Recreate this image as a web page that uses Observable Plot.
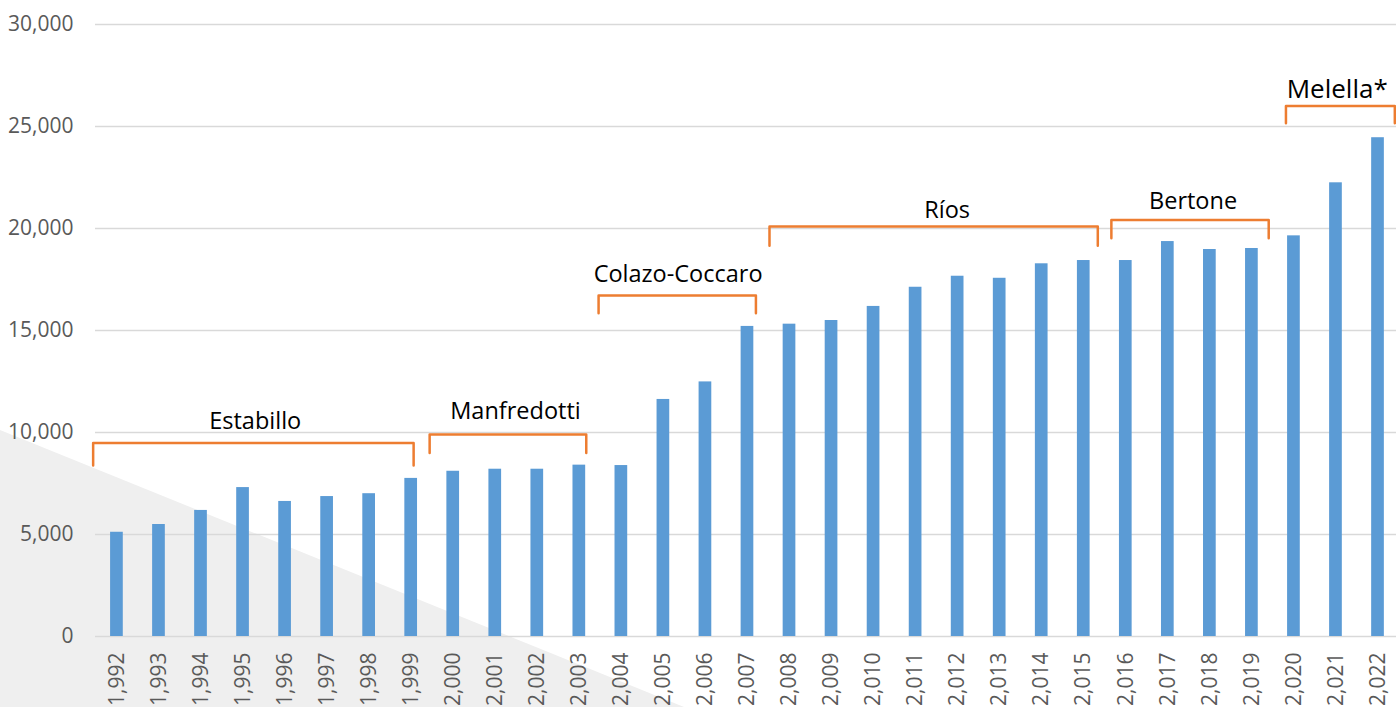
<!DOCTYPE html>
<html><head><meta charset="utf-8">
<script src="https://cdn.jsdelivr.net/npm/d3@7"></script>
<script src="https://cdn.jsdelivr.net/npm/@observablehq/plot@0.6"></script>
<style>
html,body{margin:0;padding:0;background:#fff;}
#wrap{position:relative;width:1396px;height:707px;overflow:hidden;}
#shade{position:absolute;left:0;top:0;width:1396px;height:707px;background:#efefef;clip-path:polygon(0 430px,684px 707px,0 707px);}
#chart{position:absolute;left:0;top:0;}
</style></head><body>
<div id="wrap"><div id="shade"></div><div id="chart"></div></div>
<script>
// Data
const years = [1992,1993,1994,1995,1996,1997,1998,1999,2000,2001,2002,2003,2004,2005,2006,2007,
               2008,2009,2010,2011,2012,2013,2014,2015,2016,2017,2018,2019,2020,2021,2022];
const values = [5110,5490,6180,7300,6620,6860,7000,7750,8100,8200,8200,8400,8380,11620,12480,15200,
                15310,15490,16180,17120,17660,17560,18270,18430,18430,19360,18970,19020,19640,22240,24450];
const yTicks = [0,5000,10000,15000,20000,25000,30000];

// Governor terms (annotation brackets)
const termNames  = ["Estabillo","Manfredotti","Colazo-Coccaro","Ríos","Bertone","Melella*"];
const termStart  = [1991.434,1999.439,2003.458,2007.524,2015.657,2019.81];
const termEnd    = [1999.058,2003.165,2007.201,2015.334,2019.40,2022.40];
const termTop    = [9480,9900,16720,20100,20420,26000];
const termLeg    = [8380,9000,15850,19150,19520,25160];
const termLabelX = [1995.29,2001.48,2005.35,2011.75,2017.6,2021.03];
const termLabelY = [10540,11030,17750,20880,21320,26810];

const bars = years.map((y,i)=>({year:y, value:values[i]}));
const brackets = termNames.flatMap((n,i)=>[
  {name:n, x:termStart[i], y:termLeg[i]},
  {name:n, x:termStart[i], y:termTop[i]},
  {name:n, x:termEnd[i],   y:termTop[i]},
  {name:n, x:termEnd[i],   y:termLeg[i]}
]);
const labels = termNames.map((n,i)=>({name:n, x:termLabelX[i], y:termLabelY[i], last:i===termNames.length-1}));

const halfW = 0.151;
const chart = Plot.plot({
  width:1396, height:707,
  marginLeft:95, marginRight:0, marginTop:24, marginBottom:71,
  style:{background:"transparent", fontFamily:"'Open Sans', sans-serif", fontSize:"21px", color:"#595959", overflow:"visible"},
  x:{domain:[1991.49,2022.44], label:null},
  y:{domain:[0,30000], label:null},
  marks:[
    Plot.gridY(yTicks, {stroke:"#d9d9d9", strokeOpacity:1, strokeWidth:1.5}),
    Plot.rectY(bars, {x1:d=>d.year-halfW, x2:d=>d.year+halfW, y:"value", fill:"#5b9bd5"}),
    Plot.line(brackets, {x:"x", y:"y", z:"name", stroke:"#ed7d31", strokeWidth:2.5, strokeLinejoin:"round", strokeLinecap:"round"}),
    Plot.text(labels.filter(d=>!d.last), {x:"x", y:"y", text:"name", fill:"#000", fontSize:23.5, textAnchor:"middle"}),
    Plot.text(labels.filter(d=>d.last), {x:"x", y:"y", text:"name", fill:"#000", fontSize:26, textAnchor:"middle"}),
    Plot.axisY(yTicks, {tickSize:0, tickPadding:22, tickFormat:d3.format(","), label:null}),
    Plot.axisX(years, {tickSize:0, tickPadding:16, tickRotate:-90, tickFormat:d3.format(","), label:null})
  ]
});
document.getElementById("chart").appendChild(chart);
</script>
</body></html>
